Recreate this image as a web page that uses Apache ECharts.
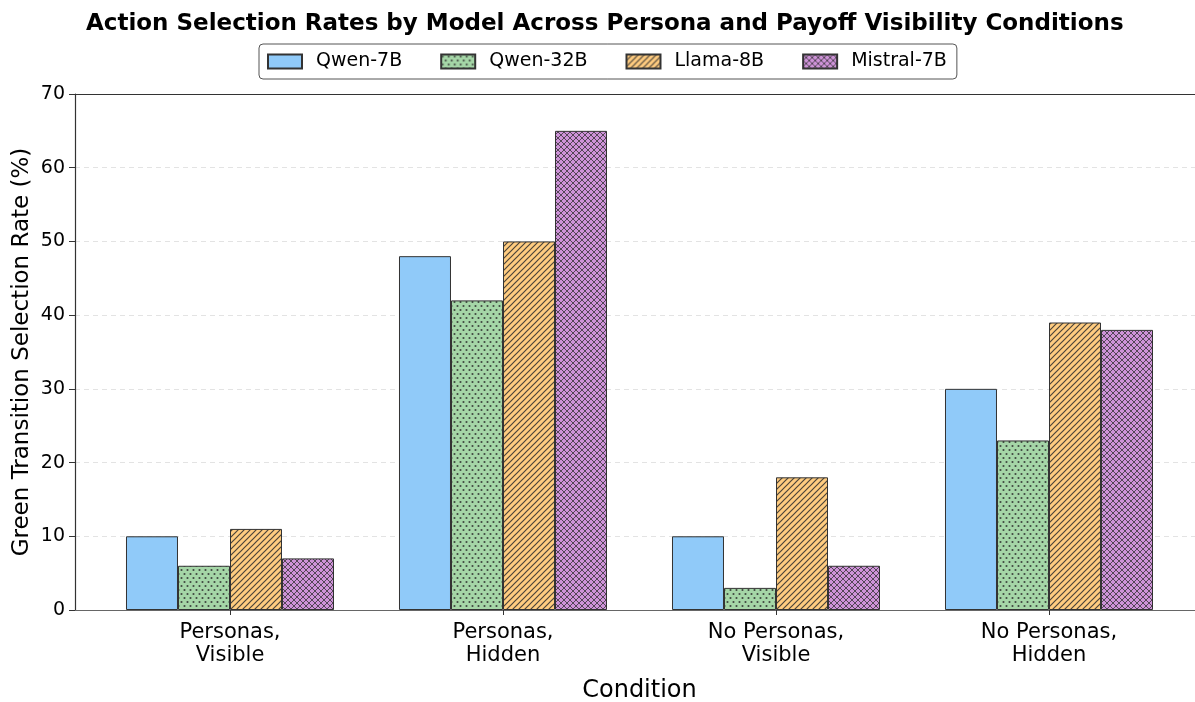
<!DOCTYPE html>
<html>
<head>
<meta charset="utf-8">
<script src="https://cdn.jsdelivr.net/npm/echarts@6/dist/echarts.min.js"></script>
<style>html,body{margin:0;padding:0;background:#fff}#c{width:1195px;height:702px}</style>
</head>
<body>
<div id="c"></div>
<script>
const categories = ['Personas,\nVisible', 'Personas,\nHidden', 'No Personas,\nVisible', 'No Personas,\nHidden'];
const models = ['Qwen-7B', 'Qwen-32B', 'Llama-8B', 'Mistral-7B'];
const qwen7b = [10, 48, 10, 30];
const qwen32b = [6, 42, 3, 23];
const llama8b = [11, 50, 18, 39];
const mistral7b = [7, 65, 6, 38];
const yTicks = [0, 10, 20, 30, 40, 50, 60, 70];

const FONT = 'DejaVu Sans';
const HATCH = 'rgba(45,45,45,0.85)';

function makePattern(bg, kind) {
  const w = 6;
  const h = kind === 'dots' ? 8 : 6;
  const cv = document.createElement('canvas');
  cv.width = w; cv.height = h;
  const ctx = cv.getContext('2d');
  ctx.fillStyle = bg;
  ctx.fillRect(0, 0, w, h);
  ctx.strokeStyle = HATCH;
  ctx.fillStyle = HATCH;
  if (kind === 'dots') {
    ctx.beginPath();
    ctx.arc(1.5, 2, 1.05, 0, Math.PI * 2);
    ctx.arc(4.5, 6, 1.05, 0, Math.PI * 2);
    ctx.fill();
  } else if (kind === 'diag' || kind === 'cross') {
    const s = w;
    ctx.lineWidth = kind === 'cross' ? 0.95 : 1.2;
    if (kind === 'cross') ctx.strokeStyle = 'rgba(45,45,45,0.8)';
    ctx.beginPath();
    ctx.moveTo(-1, s + 1); ctx.lineTo(s + 1, -1);
    ctx.moveTo(-1, 1); ctx.lineTo(1, -1);
    ctx.moveTo(s - 1, s + 1); ctx.lineTo(s + 1, s - 1);
    if (kind === 'cross') {
      ctx.moveTo(-1, -1); ctx.lineTo(s + 1, s + 1);
      ctx.moveTo(s - 1, -1); ctx.lineTo(s + 1, 1);
      ctx.moveTo(-1, s - 1); ctx.lineTo(1, s + 1);
    }
    ctx.stroke();
  }
  return { image: cv, repeat: 'repeat' };
}

const fills = [
  '#90CAF9',
  makePattern('#A5D6A7', 'dots'),
  makePattern('#FFCC80', 'diag'),
  makePattern('#CE93D8', 'cross')
];
const seriesData = [qwen7b, qwen32b, llama8b, mistral7b];

const chart = echarts.init(document.getElementById('c'), null, { renderer: 'canvas' });
const option = {
  animation: false,
  textStyle: { fontFamily: FONT },
  title: {
    text: 'Action Selection Rates by Model Across Persona and Payoff Visibility Conditions',
    left: 81, top: 8,
    textStyle: { fontFamily: FONT, fontWeight: 'bold', fontSize: 23, color: '#000' }
  },
  legend: {
    data: models,
    icon: 'rect',
    top: 44, left: 259,
    itemWidth: 34, itemHeight: 14, itemGap: 38,
    padding: [8, 10, 8, 8],
    borderColor: '#555', borderWidth: 1, borderRadius: 4,
    textStyle: { fontFamily: FONT, fontSize: 19, color: '#000', padding: [0, 0, 0, 9] }
  },
  grid: [
    { left: 93.5, right: 9.5, top: 94, bottom: 92, outerBoundsMode: 'none', containLabel: false },
    { left: 75, right: -9, top: 94, bottom: 92, outerBoundsMode: 'none', containLabel: false }
  ],
  xAxis: [
    {
      type: 'category', gridIndex: 0, data: categories,
      axisLine: { show: false },
      axisTick: { show: true, alignWithLabel: true, length: 5, lineStyle: { color: '#333' } },
      axisLabel: { fontFamily: FONT, fontSize: 21, color: '#000', margin: 11, lineHeight: 23 }
    },
    {
      type: 'value', gridIndex: 1, position: 'bottom', min: 0, max: 1,
      axisLine: { show: true, onZero: false, lineStyle: { color: '#666', width: 1.2 } },
      axisTick: { show: false }, axisLabel: { show: false }, splitLine: { show: false },
      name: 'Condition', nameLocation: 'middle', nameGap: 69, nameMoveOverlap: false,
      nameTextStyle: { fontFamily: FONT, fontSize: 24, color: '#000' }
    },
    {
      type: 'value', gridIndex: 1, position: 'top', min: 0, max: 1,
      axisLine: { show: true, onZero: false, lineStyle: { color: '#333', width: 1.2 } },
      axisTick: { show: false }, axisLabel: { show: false }, splitLine: { show: false }
    }
  ],
  yAxis: [
    { type: 'value', gridIndex: 0, min: 0, max: 70, interval: 10, show: false },
    {
      type: 'value', gridIndex: 1, min: 0, max: 70, interval: 10,
      axisLine: { show: true, lineStyle: { color: '#333', width: 1.2 } },
      axisTick: { show: true, length: 6, lineStyle: { color: '#333' } },
      axisLabel: {
        fontFamily: FONT, fontSize: 19, color: '#000', margin: 10,
        formatter: v => (yTicks.indexOf(v) >= 0 ? String(v) : '')
      },
      splitLine: { show: true, lineStyle: { color: '#e3e3e3', type: [5, 4], width: 1 } },
      name: 'Green Transition Selection Rate (%)', nameLocation: 'middle', nameGap: 41, nameMoveOverlap: false,
      nameTextStyle: { fontFamily: FONT, fontSize: 23, color: '#000' }
    }
  ],
  series: models.map((m, i) => ({
    name: m, type: 'bar', xAxisIndex: 0, yAxisIndex: 0,
    data: seriesData[i],
    barGap: '0%', barCategoryGap: '23.8%',
    itemStyle: { color: fills[i], borderColor: '#333', borderWidth: 1, opacity: 1 }
  }))
};
chart.setOption(option);
</script>
</body>
</html>
